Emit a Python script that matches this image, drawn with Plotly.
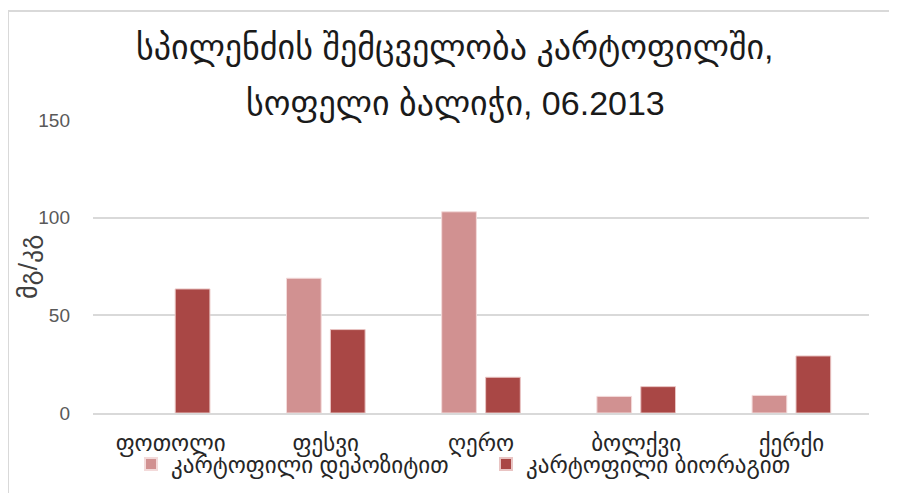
import plotly.graph_objects as go

categories = ["ფოთოლი", "ფესვი", "ღერო", "ბოლქვი", "ქერქი"]
series_names = ["კარტოფილი დეპოზიტით", "კარტოფილი ბიორაგით"]
deposit_values = [None, 69, 103, 8.5, 9]
biorag_values = [63.5, 42.7, 18.3, 13.5, 29.2]
y_ticks = [0, 50, 100, 150]
title_line1 = "სპილენძის შემცველობა კარტოფილში,"
title_line2 = "სოფელი ბალიჭი, 06.2013"
y_title = "მგ/კგ"

# the page body adds an 8px offset, so the figure is 8px smaller
OFF = 8
W, H = 897 - OFF, 493 - OFF
L, R, T, B = 93 - OFF, 28, 120 - OFF, 80
pw, ph = W - L - R, H - T - B

def px(x):
    return (x - OFF - L) / pw

def py(y):
    return (H - B - (y - OFF)) / ph

FONT = "Liberation Sans, DejaVu Sans, sans-serif"

fig = go.Figure()
fig.add_trace(go.Bar(name=series_names[0], x=categories, y=deposit_values,
                     marker=dict(color="#D19191", line=dict(color="#F3DADA", width=1))))
fig.add_trace(go.Bar(name=series_names[1], x=categories, y=biorag_values,
                     marker=dict(color="#A94745", line=dict(color="#E9C4C3", width=1))))

fig.update_layout(
    width=W, height=H,
    margin=dict(l=L, r=R, t=T, b=B, autoexpand=False),
    paper_bgcolor="white", plot_bgcolor="white",
    barmode="group", bargap=0.434, bargroupgap=0.21,
    font=dict(family=FONT, color="#404040"),
    showlegend=True,
    legend=dict(orientation="h", x=px(131), y=py(464), xanchor="left", yanchor="middle",
                font=dict(size=23, color="#262626", family=FONT),
                entrywidth=310, bgcolor="rgba(0,0,0,0)", itemsizing="constant"),
)
fig.update_yaxes(range=[0, 150], tickvals=y_ticks, showgrid=True, gridcolor="#D9D9D9", gridwidth=2,
                 zeroline=False, showline=False, ticks="", ticklabelstandoff=22, automargin=False,
                 tickfont=dict(size=19, color="#595959", family=FONT), fixedrange=True)
fig.update_xaxes(showline=True, linecolor="#D9D9D9", linewidth=2, ticks="", ticklabelstandoff=8,
                 automargin=False,
                 tickfont=dict(size=23, color="#262626", family=FONT))

fig.add_annotation(text=title_line1, xref="paper", yref="paper", x=px(455), y=py(62),
                   xanchor="center", yanchor="bottom", showarrow=False, yshift=-7,
                   font=dict(size=34, color="#1a1a1a", family=FONT))
fig.add_annotation(text=title_line2, xref="paper", yref="paper", x=px(455), y=py(117),
                   xanchor="center", yanchor="bottom", showarrow=False, yshift=-8,
                   font=dict(size=34, color="#1a1a1a", family=FONT))
fig.add_annotation(text=y_title, xref="paper", yref="paper", x=px(28), y=py(267),
                   xanchor="center", yanchor="middle", showarrow=False, textangle=-90,
                   font=dict(size=26, color="#404040", family=FONT))

fig.add_shape(type="rect", xref="paper", yref="paper",
              x0=px(8), x1=px(905), y0=py(505), y1=py(11),
              line=dict(color="#D9D9D9", width=2), fillcolor="rgba(0,0,0,0)", layer="below")

fig.write_html("out.html")
